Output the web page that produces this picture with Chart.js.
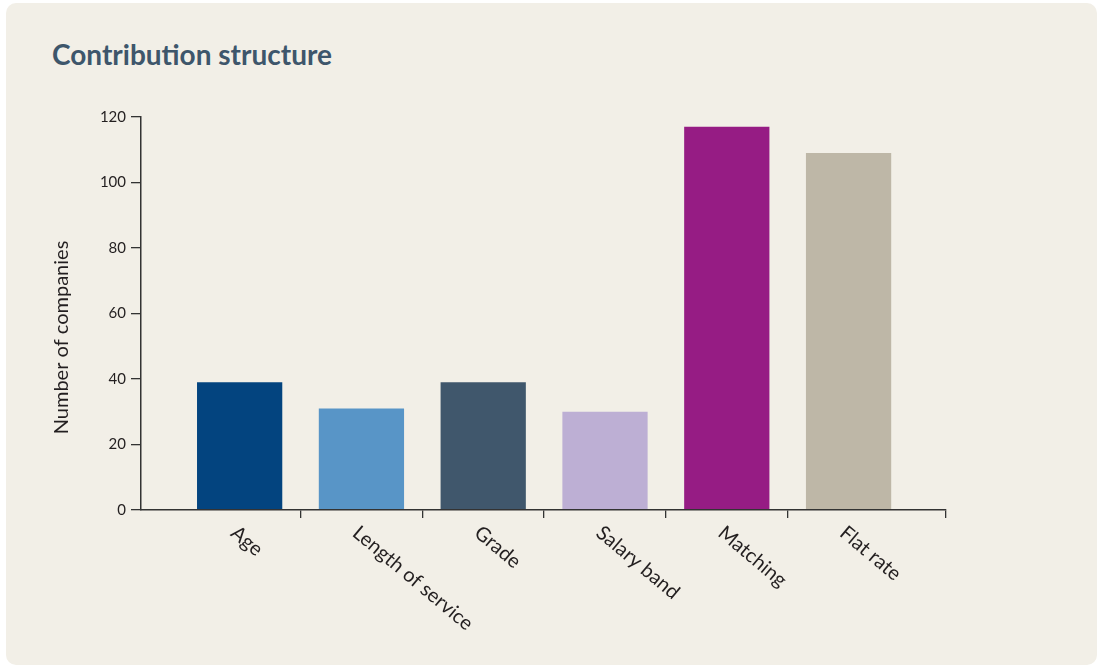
<!DOCTYPE html>
<html>
<head>
<meta charset="utf-8">
<title>Contribution structure</title>
<script src="https://cdn.jsdelivr.net/npm/chart.js@4"></script>
<style>
  html, body { margin: 0; padding: 0; background: #ffffff; }
  body { width: 1099px; height: 668px; position: relative; overflow: hidden; }
  .card { position: absolute; left: 6px; top: 3px; width: 1091px; height: 662px;
          background: #f2efe7; border-radius: 10px; }
  h1 { position: absolute; left: 52px; top: 40px; margin: 0;
       font: 700 28px/28px Lato, sans-serif; color: #3e566b; white-space: nowrap; }
  #chart { position: absolute; left: 0; top: 0; }
</style>
</head>
<body>
<div class="card"></div>
<h1>Contribution structure</h1>
<canvas id="chart" width="1099" height="668"></canvas>
<script>
// Contribution structure categories and the number of companies using each
const categories = ['Age', 'Length of service', 'Grade', 'Salary band', 'Matching', 'Flat rate'];
const companies = [39, 31, 39, 30, 117, 109];
const barColours = ['#03447f', '#5895c7', '#40576c', '#bdafd4', '#961c84', '#beb7a7'];
const yTickValues = [0, 20, 40, 60, 80, 100, 120];
const yAxisTitle = 'Number of companies';

const axisColour = '#333333';
const textColour = '#231f20';

Chart.defaults.font.family = 'Lato, sans-serif';

// Category names below the axis, slanted down to the right,
// and the vertical axis title, set a little below the axis middle
const axisText = {
  id: 'axisText',
  afterDraw(chart) {
    const { ctx, chartArea, scales: { x } } = chart;
    ctx.save();
    ctx.fillStyle = textColour;
    ctx.font = '20px Lato, sans-serif';
    ctx.textAlign = 'left';
    ctx.textBaseline = 'middle';
    categories.forEach((name, i) => {
      ctx.save();
      ctx.translate(x.getPixelForValue(i) - 6, x.top + 20);
      ctx.rotate(40 * Math.PI / 180);
      ctx.fillText(name, 0, 0);
      ctx.restore();
    });
    ctx.font = '20px Lato, sans-serif';
    ctx.textAlign = 'center';
    ctx.translate(chartArea.left - 79, (chartArea.top + chartArea.bottom) / 2 + 24);
    ctx.rotate(-Math.PI / 2);
    ctx.fillText(yAxisTitle, 0, 0);
    ctx.restore();
  }
};

new Chart(document.getElementById('chart'), {
  type: 'bar',
  data: {
    datasets: [{
      data: categories.map((c, i) => ({ x: i, y: companies[i] })),
      backgroundColor: barColours,
      borderWidth: 0,
      barPercentage: 0.7,
      categoryPercentage: 1
    }]
  },
  options: {
    responsive: false,
    animation: false,
    devicePixelRatio: 1,
    layout: { padding: { left: 51, right: 153, top: 117, bottom: 150 } },
    plugins: { legend: { display: false }, tooltip: { enabled: false } },
    scales: {
      x: {
        type: 'linear',
        offset: false,
        min: -0.81,
        max: 5.8,
        // tick marks sit between neighbouring categories and at the axis end
        afterBuildTicks: s => {
          s.ticks = categories.slice(1).map((c, i) => ({ value: i + 0.5 }))
            .concat([{ value: s.max }]);
        },
        ticks: { display: false },
        grid: { offset: false, drawOnChartArea: false, drawTicks: true, tickLength: 8,
                color: axisColour, tickColor: axisColour, lineWidth: 1.3 },
        border: { color: axisColour, width: 1.5, z: 1 }
      },
      y: {
        min: 0,
        max: 120,
        afterBuildTicks: s => { s.ticks = yTickValues.map(v => ({ value: v })); },
        afterFit: s => { s.width = 90; },
        ticks: { color: textColour, font: { size: 15 }, padding: 5 },
        grid: { drawOnChartArea: false, drawTicks: true, tickLength: 10,
                color: axisColour, tickColor: axisColour, lineWidth: 1.3 },
        border: { color: axisColour, width: 1.5, z: 1 }
      }
    }
  },
  plugins: [axisText]
});
</script>
</body>
</html>
